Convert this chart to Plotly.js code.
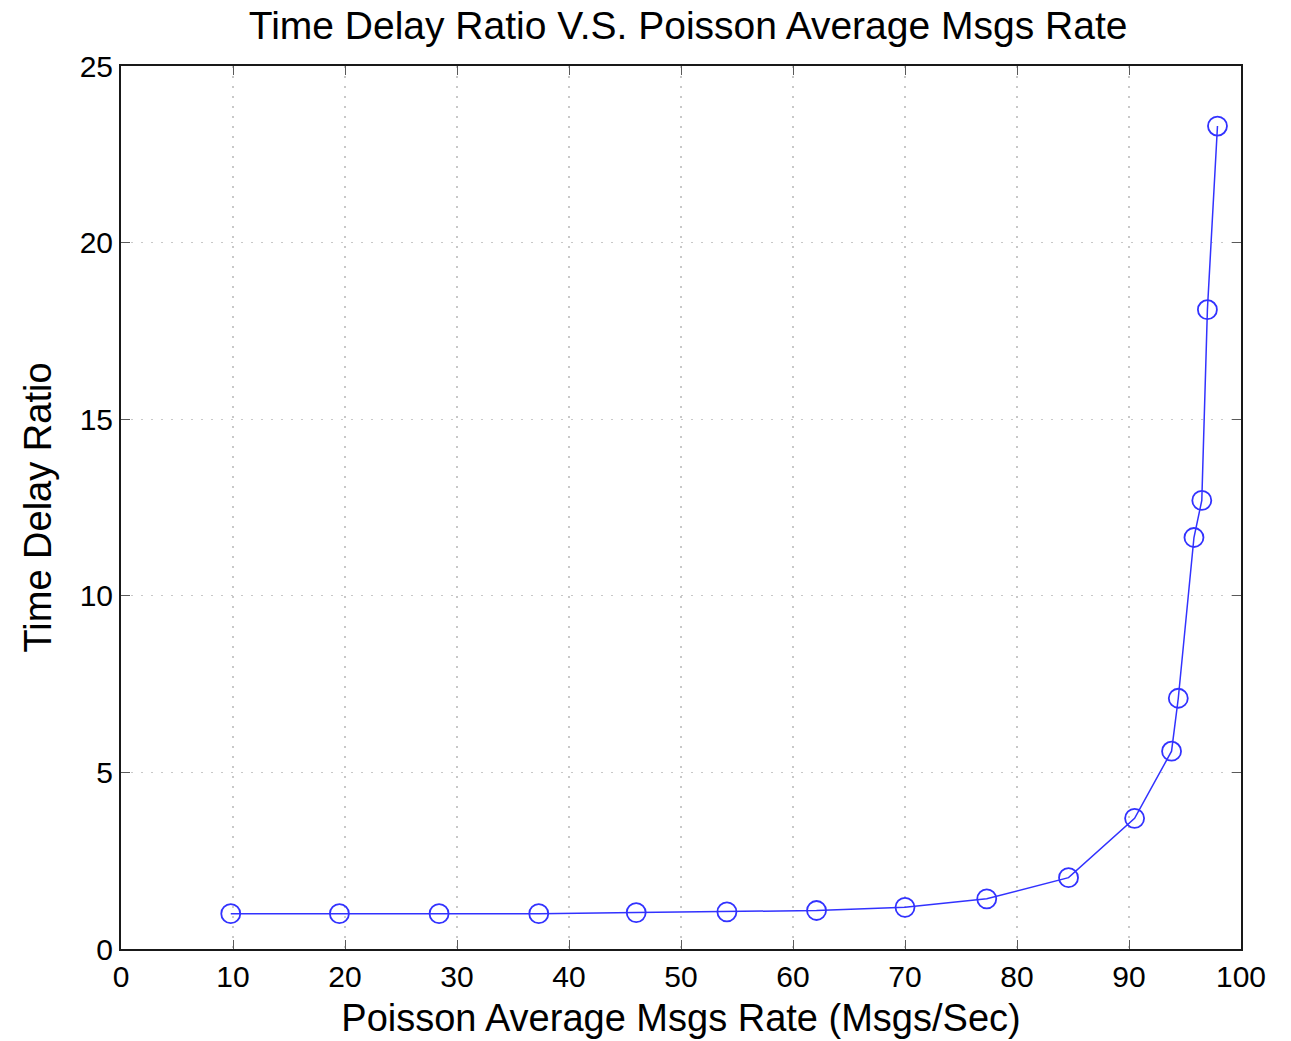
<!DOCTYPE html>
<html>
<head>
<meta charset="utf-8">
<script src="https://cdn.plot.ly/plotly-3.0.1.min.js"></script>
<style>html,body{margin:0;padding:0;background:#fff;}#chart{width:1291px;height:1041px;}</style>
</head>
<body>
<div id="chart"></div>
<script>
const msgRate = [9.8, 19.5, 28.4, 37.3, 46.0, 54.1, 62.1, 70.0, 77.3, 84.6, 90.5, 93.8, 94.4, 95.8, 96.5, 97.0, 97.9];
const delayRatio = [1.0, 1.0, 1.0, 1.0, 1.03, 1.05, 1.09, 1.18, 1.42, 2.02, 3.7, 5.6, 7.1, 11.65, 12.7, 18.1, 23.3];
const chartTitle = 'Time Delay Ratio V.S. Poisson Average Msgs Rate';
const xTitle = 'Poisson Average Msgs Rate (Msgs/Sec)';
const yTitle = 'Time Delay Ratio';

const fontFam = '"Liberation Sans", Arial, Helvetica, sans-serif';

const trace = {
  x: msgRate,
  y: delayRatio,
  type: 'scatter',
  mode: 'lines+markers',
  line: {color: 'rgb(50,50,255)', width: 1.5},
  marker: {symbol: 'circle-open', size: 19, color: 'rgb(50,50,255)', line: {width: 1.8, color: 'rgb(50,50,255)'}},
  showlegend: false
};

const axisCommon = {
  showline: true, mirror: 'ticks', linecolor: 'rgb(25,25,25)', linewidth: 2,
  ticks: 'inside', ticklen: 9, tickwidth: 1, tickcolor: 'rgb(90,90,90)',
  showgrid: true, gridcolor: 'rgb(200,200,200)', griddash: '2px,8px', gridwidth: 1.2,
  zeroline: false,
  tickfont: {family: fontFam, size: 30, color: '#000'}
};

const layout = {
  width: 1291, height: 1041,
  paper_bgcolor: '#fff', plot_bgcolor: '#fff',
  margin: {l: 121, r: 50, t: 66, b: 92},
  title: {text: chartTitle, font: {family: fontFam, size: 39, color: '#000'}, x: 0.533, xanchor: 'center', y: 0.976, yanchor: 'middle'},
  xaxis: Object.assign({}, axisCommon, {
    range: [0, 100], dtick: 10, tick0: 0,
    title: {text: xTitle, font: {family: fontFam, size: 38, color: '#000'}, standoff: 12}
  }),
  yaxis: Object.assign({}, axisCommon, {
    range: [0, 25], dtick: 5, tick0: 0,
    title: {text: yTitle, font: {family: fontFam, size: 38, color: '#000'}, standoff: 16}
  })
};

Plotly.newPlot('chart', [trace], layout, {displayModeBar: false, staticPlot: true});
</script>
</body>
</html>
